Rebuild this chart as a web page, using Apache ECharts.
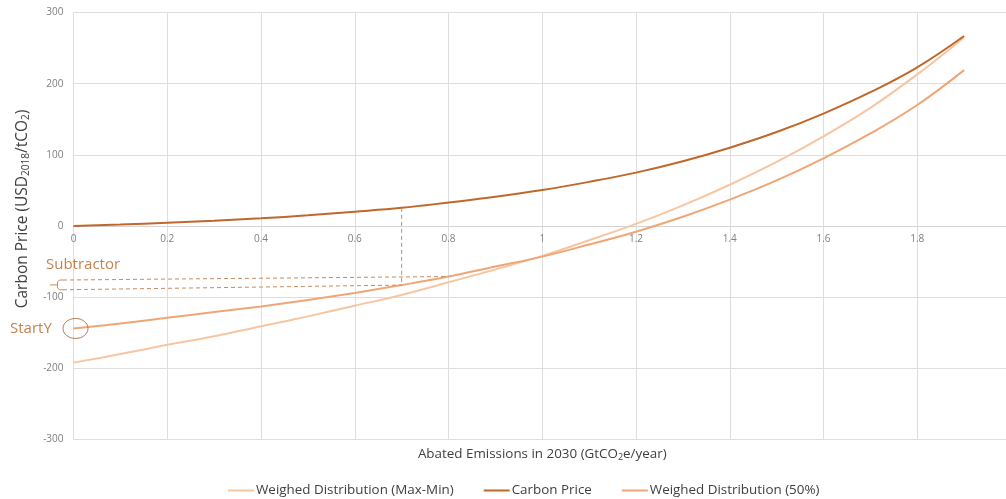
<!DOCTYPE html>
<html>
<head>
<meta charset="utf-8">
<script src="https://cdn.jsdelivr.net/npm/echarts@6/dist/echarts.min.js"></script>
<style>html,body{margin:0;padding:0;background:#fff}#c{width:1006px;height:499px}</style>
</head>
<body>
<div id="c"></div>
<script>
// ---- data ----
const xValues = [0,0.1,0.2,0.3,0.4,0.5,0.6,0.7,0.8,0.9,1.0,1.1,1.2,1.3,1.4,1.5,1.6,1.7,1.8,1.9];
const weighedMaxMin = [-192,-180,-167,-155,-141,-127,-112,-97,-79,-61,-42,-20,3,29,58,90,126,166,213,265];
const carbonPrice   = [0,2.1,4.6,7.5,10.8,15,20,25.5,33,41,50.5,62,75,91,110,132,158,188,223,267];
const weighed50     = [-144,-137,-129,-121,-113,-104,-94,-83,-71,-57,-43,-26,-8,13,37,64,95,130,170,219];
const seriesNames = ['Weighed Distribution (Max-Min)','Carbon Price','Weighed Distribution (50%)'];
const xTicks = {min:0, max:2, interval:0.2};
const yTicks = {min:-300, max:300, interval:100};
const annotationLabels = ['Subtractor','StartY'];
const subtractorX = [0.7, 0.8];

const FONT = '"Open Sans", "Noto Sans", sans-serif';
const colors = ['#f6c6a3','#c0672c','#efa676'];
const pairs = arr => xValues.map((x,i)=>[x,arr[i]]);

const chart = echarts.init(document.getElementById('c'), null, {renderer:'canvas'});
const option = {
  animation:false,
  backgroundColor:'#fff',
  textStyle:{fontFamily:FONT},
  grid:{left:73.5, top:12.5, bottom:59.5, width:937.5, containLabel:false, outerBoundsMode:'none'},
  xAxis:{
    type:'value', min:xTicks.min, max:xTicks.max, interval:xTicks.interval,
    position:'bottom', offset:0,
    axisLine:{onZero:true, lineStyle:{color:'#d4d4d4', width:1}},
    axisTick:{show:false},
    splitLine:{show:true, lineStyle:{color:'#dedede', width:1}},
    axisLabel:{color:'#7f7f7f', fontSize:10, fontFamily:FONT, margin:8},
    name:'Abated Emissions in 2030 (GtCO{s|2}e/year)',
    nameLocation:'middle', nameGap:220,
    nameTextStyle:{color:'#404040', fontSize:13.4, fontFamily:FONT,
      rich:{s:{fontSize:9, fontFamily:FONT, color:'#404040', padding:[7,0,0,0]}}}
  },
  yAxis:{
    type:'value', min:yTicks.min, max:yTicks.max, interval:yTicks.interval,
    axisLine:{show:false, onZero:false}, axisTick:{show:false},
    splitLine:{show:true, lineStyle:{color:'#dedede', width:1}},
    axisLabel:{color:'#7f7f7f', fontSize:10, fontFamily:FONT, margin:10},
    name:'{a|Carbon Price (USD}{s|2018}{a|/tCO}{s|2}{a|)}',
    nameLocation:'middle', nameGap:42, nameRotate:90,
    nameTextStyle:{padding:[0,0,0,34],
      rich:{a:{fontSize:15.5, fontFamily:FONT, color:'#404040'},
            s:{fontSize:10, fontFamily:FONT, color:'#404040', padding:[8,0,0,0]}}}
  },
  legend:{
    top:479, left:223, itemWidth:26, itemHeight:2, itemGap:30,
    icon:'rect',
    textStyle:{color:'#404040', fontSize:13.4, fontFamily:FONT, padding:[0,0,0,-3]},
    data:seriesNames
  },
  series:[
    {name:seriesNames[0], type:'line', data:pairs(weighedMaxMin), smooth:0.4, showSymbol:false,
     lineStyle:{color:colors[0], width:2}, itemStyle:{color:colors[0]}, z:2},
    {name:seriesNames[2], type:'line', data:pairs(weighed50), smooth:0.4, showSymbol:false,
     lineStyle:{color:colors[2], width:2}, itemStyle:{color:colors[2]}, z:3},
    {name:seriesNames[1], type:'line', data:pairs(carbonPrice), smooth:0.4, showSymbol:false,
     lineStyle:{color:colors[1], width:2}, itemStyle:{color:colors[1]}, z:4}
  ]
};
chart.setOption(option);

// put the x axis on the y = 0 line using the chart's own scale
const px = (x,y) => chart.convertToPixel({gridIndex:0}, [x,y]);
const zeroY = px(0, 0)[1];
const bottomY = px(0, yTicks.min)[1];
chart.setOption({xAxis:{offset: -(bottomY - zeroY)}});

// ---- annotations placed through the chart's own scales ----
const i7 = xValues.indexOf(subtractorX[0]);
const i8 = xValues.indexOf(subtractorX[1]);
const pTop = px(subtractorX[0], carbonPrice[i7]);
const pL = px(subtractorX[0], weighed50[i7]);
const pU = px(subtractorX[1], weighed50[i8]);
const pStart = px(0, weighed50[0]);
const leftX = 63;
const yU = pU[1] + 3.5, yL = pL[1] + 4.7;
const dashC = '#c48c63';
const annC = '#c3834f';
chart.setOption({
  graphic:[
    {type:'line', shape:{x1:pTop[0], y1:pTop[1], x2:pL[0], y2:pL[1]},
     style:{stroke:dashC, lineWidth:1, lineDash:[4,3]}, z:10},
    {type:'line', shape:{x1:leftX, y1:yU, x2:pU[0], y2:pU[1]},
     style:{stroke:dashC, lineWidth:1, lineDash:[4,3]}, z:10},
    {type:'line', shape:{x1:leftX, y1:yL, x2:pL[0], y2:pL[1]},
     style:{stroke:dashC, lineWidth:1, lineDash:[4,3]}, z:10},
    {type:'polyline', shape:{points:[[leftX,yU],[59.5,yU],[57.5,yU+2],[57.5,yL-2],[59.5,yL],[leftX,yL]]},
     style:{stroke:'#d08a58', lineWidth:1, fill:null}, z:10},
    {type:'line', shape:{x1:50, y1:(yU+yL)/2, x2:57.5, y2:(yU+yL)/2},
     style:{stroke:'#d08a58', lineWidth:1}, z:10},
    {type:'ellipse', shape:{cx:pStart[0]+2, cy:pStart[1], rx:12.5, ry:10},
     style:{stroke:'#b57a52', lineWidth:1, fill:null}, z:10},
    {type:'text', x:46, y:265, style:{text:annotationLabels[0], fill:annC, font:'15px '+FONT, textAlign:'left', textVerticalAlign:'middle'}, z:10},
    {type:'text', x:10, y:329, style:{text:annotationLabels[1], fill:annC, font:'15px '+FONT, textAlign:'left', textVerticalAlign:'middle'}, z:10}
  ]
});
</script>
</body>
</html>
